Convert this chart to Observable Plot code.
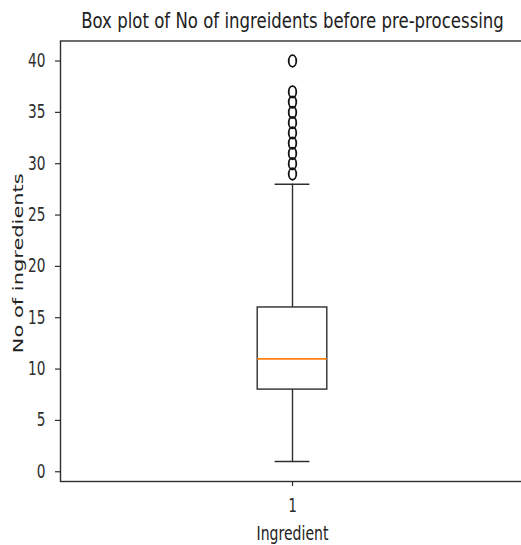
<!DOCTYPE html>
<html>
<head>
<meta charset="utf-8">
<script src="https://cdn.jsdelivr.net/npm/d3@7"></script>
<script src="https://cdn.jsdelivr.net/npm/@observablehq/plot@0.6"></script>
<style>
  html, body { margin: 0; padding: 0; background: white; }
  svg { display: block; }
</style>
</head>
<body>
<script>
const titleText = "Box plot of No of ingreidents before pre-processing";
const xLabel = "Ingredient";
const yLabel = "No of ingredients";
const categories = ["1"];
const whiskerLow = [1];
const q1 = [8];
const median = [11];
const q3 = [16];
const whiskerHigh = [28];
const outliers = [29, 30, 31, 32, 33, 34, 35, 36, 37, 40];
const yTicks = [0, 5, 10, 15, 20, 25, 30, 35, 40];

const stats = categories.map((c, i) => ({
  pos: i + 1, lo: whiskerLow[i], q1: q1[i], med: median[i], q3: q3[i], hi: whiskerHigh[i]
}));
const outlierRows = outliers.map(v => ({pos: 1, v}));

const halfBox = 0.075, halfCap = 0.0375;
const ink = "#2e2e2e";

const ellipse = {
  draw(ctx) {
    const rx = 3.8, ry = 5.8, k = 0.5523;
    ctx.moveTo(rx, 0);
    ctx.bezierCurveTo(rx, ry * k, rx * k, ry, 0, ry);
    ctx.bezierCurveTo(-rx * k, ry, -rx, ry * k, -rx, 0);
    ctx.bezierCurveTo(-rx, -ry * k, -rx * k, -ry, 0, -ry);
    ctx.bezierCurveTo(rx * k, -ry, rx, -ry * k, rx, 0);
    ctx.closePath();
  }
};

const chart = Plot.plot({
  width: 521,
  height: 545,
  marginLeft: 60,
  marginRight: -3,
  marginTop: 40.5,
  marginBottom: 64,
  style: {fontFamily: "DejaVu Sans", color: ink, background: "white"},
  x: {domain: [0.5, 1.5], axis: null},
  y: {domain: [-0.95, 41.95], axis: null},
  marks: [
    Plot.frame({stroke: ink, strokeWidth: 1.4}),
    Plot.axisY({ticks: yTicks, tickSize: 5, tickPadding: 10, fontSize: 19, label: null, strokeWidth: 1.2}),
    Plot.axisX({ticks: [1], tickSize: 5, tickPadding: 12, fontSize: 19, label: null, strokeWidth: 1.2,
      tickFormat: d => categories[d - 1]}),
    Plot.ruleX(stats, {x: "pos", y1: "q3", y2: "hi", stroke: ink, strokeWidth: 1.4}),
    Plot.ruleX(stats, {x: "pos", y1: "lo", y2: "q1", stroke: ink, strokeWidth: 1.4}),
    Plot.ruleY(stats, {y: "hi", x1: d => d.pos - halfCap, x2: d => d.pos + halfCap, stroke: ink, strokeWidth: 1.6}),
    Plot.ruleY(stats, {y: "lo", x1: d => d.pos - halfCap, x2: d => d.pos + halfCap, stroke: ink, strokeWidth: 1.6}),
    Plot.rect(stats, {x1: d => d.pos - halfBox, x2: d => d.pos + halfBox, y1: "q1", y2: "q3", fill: "none", stroke: ink, strokeWidth: 1.4}),
    Plot.ruleY(stats, {y: "med", x1: d => d.pos - halfBox, x2: d => d.pos + halfBox, stroke: "#ff7f0e", strokeWidth: 1.7}),
    Plot.dot(outlierRows, {x: "pos", y: "v", symbol: ellipse, fill: "none", stroke: "#111", strokeWidth: 1.8}),
    Plot.text([titleText], {frameAnchor: "top", lineAnchor: "bottom", dy: -13, fontSize: 21, fill: "#222"}),
    Plot.text([xLabel], {frameAnchor: "bottom", lineAnchor: "top", dy: 45, fontSize: 19.5, fill: "#222"}),
    Plot.text([yLabel], {frameAnchor: "left", textAnchor: "middle", rotate: -90, dx: -42, dy: 2, lineAnchor: "middle", fontSize: 14, fill: "#222"})
  ]
});
document.body.append(chart);

// squeeze the horizontal texts the way the reference picture is squeezed
const texts = Array.from(chart.querySelectorAll("text"));
const find = s => texts.find(t => t.textContent === s);
const squeeze = (el, f) => {
  const x = +(el.getAttribute("x") || 0);
  const tr = el.getAttribute("transform") || "";
  el.setAttribute("transform", `${tr} translate(${x},0) scale(${f},1) translate(${-x},0)`);
};
const xl = find(xLabel);
const factor = xl ? 72 / xl.getComputedTextLength() : 0.62;
texts.forEach(t => {
  if (t.textContent === titleText) squeeze(t, 423 / t.getComputedTextLength());
  else if (t.textContent === yLabel) squeeze(t, 180 / t.getComputedTextLength());
  else squeeze(t, factor);
});
</script>
</body>
</html>
